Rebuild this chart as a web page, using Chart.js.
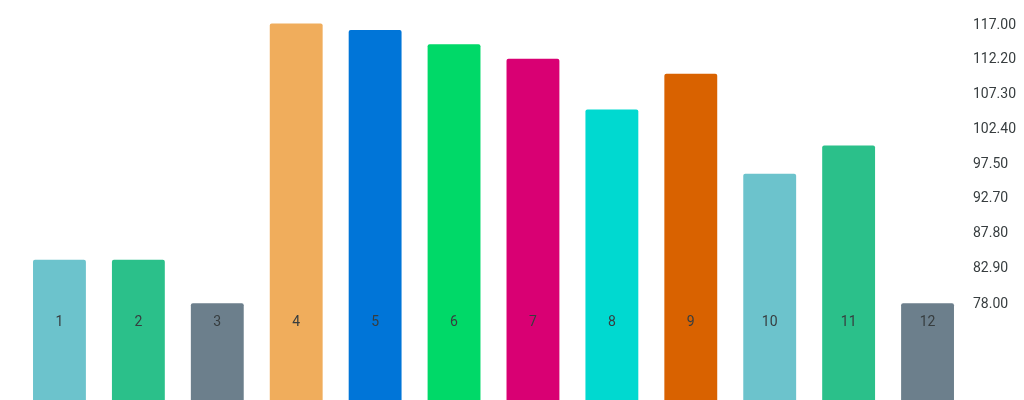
<!DOCTYPE html>
<html>
<head>
<meta charset="utf-8">
<script src="https://cdn.jsdelivr.net/npm/chart.js@4/dist/chart.umd.min.js"></script>
<style>
html,body{margin:0;padding:0;background:#fff;}
#wrap{width:1024px;height:400px;position:relative;}
</style>
</head>
<body>
<div id="wrap"><canvas id="c"></canvas></div>
<script>
const categories = ['1','2','3','4','5','6','7','8','9','10','11','12'];
const values = [84.2, 84.2, 78.1, 117.2, 116.3, 114.3, 112.3, 105.2, 110.2, 96.2, 100.15, 78.1];
const barColors = ['#6CC3CC','#2BC08A','#6C7F8C','#F0AD5C','#0075D8','#00D968','#D90073','#00D9D0','#D96200','#6CC3CC','#2BC08A','#6C7F8C'];
const tickValues = [78.00, 82.90, 87.80, 92.70, 97.50, 102.40, 107.30, 112.20, 117.00];

const textColor = '#373d3f';
const fontFamily = 'Roboto, sans-serif';

const barLabels = {
  id: 'barLabels',
  afterDatasetsDraw(chart) {
    const ctx = chart.ctx;
    const meta = chart.getDatasetMeta(0);
    const y = chart.scales.y.getPixelForValue(tickValues[0]) + 18;
    ctx.save();
    ctx.font = '14px ' + fontFamily;
    ctx.fillStyle = textColor;
    ctx.textAlign = 'center';
    ctx.textBaseline = 'middle';
    meta.data.forEach((bar, i) => {
      ctx.fillText(categories[i], bar.x, y);
    });
    ctx.restore();
  }
};

new Chart(document.getElementById('c'), {
  type: 'bar',
  data: {
    labels: categories,
    datasets: [{
      data: values,
      backgroundColor: barColors,
      borderRadius: 2,
      borderSkipped: 'bottom',
      categoryPercentage: 1,
      barPercentage: 0.67
    }]
  },
  options: {
    responsive: true,
    maintainAspectRatio: false,
    animation: false,
    layout: { padding: { left: 20, right: 6, top: 0, bottom: 0 } },
    plugins: { legend: { display: false }, tooltip: { enabled: false } },
    scales: {
      x: { display: false },
      y: {
        position: 'right',
        min: 64.58,
        max: 120.5,
        grid: { display: false, drawTicks: false, tickLength: 0 },
        border: { display: false },
        afterBuildTicks(axis) { axis.ticks = tickValues.map(v => ({ value: v })); },
        afterFit(axis) {
          axis.width = 51;
          axis.paddingTop = 0;
          axis.paddingBottom = 0;
        },
        ticks: {
          padding: 6,
          color: textColor,
          font: { family: fontFamily, size: 14 },
          callback: (v) => Number(v).toFixed(2)
        }
      }
    }
  },
  plugins: [barLabels]
});
</script>
</body>
</html>
